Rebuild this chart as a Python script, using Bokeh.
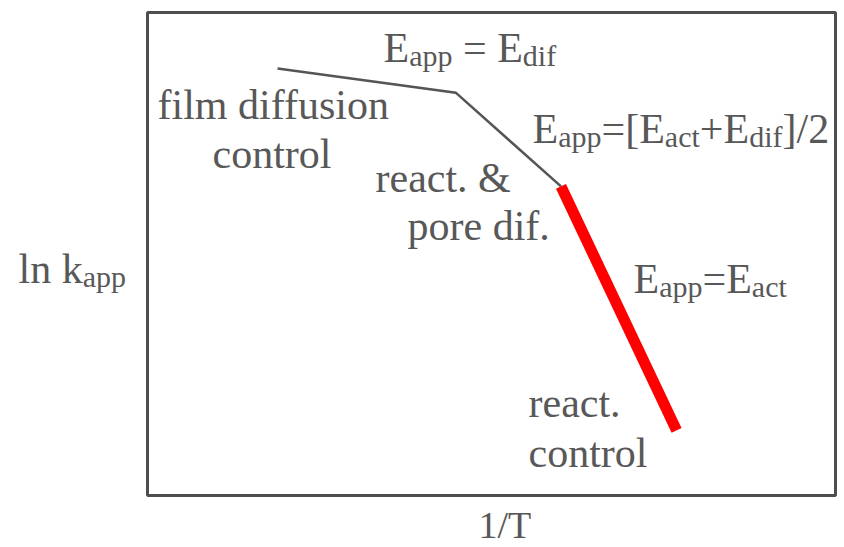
from bokeh.plotting import figure
from bokeh.models import Range1d, Label, BoxAnnotation
from bokeh.embed import file_html
from bokeh.resources import INLINE

# ---- data (arbitrary units: x = 1/T, y = ln k_app; plot box spans 0..10) ----
diff_x = [1.89, 4.48, 6.01]   # film diffusion -> pore diffusion regime
diff_y = [8.84, 8.34, 6.40]
react_x = [6.01, 7.69]        # reaction-controlled regime
react_y = [6.40, 1.35]

x_label = "1/T"
y_label = [("ln k", False), ("app", True)]

# ---- layout (page pixels) ----
W, H = 844, 547
BX0, BX1, BY0, BY1 = 147, 835, 12, 495   # plot box edges

FONT = "Liberation Serif"
TXT = "#585858"
MAIN = 42
SUB = 30
SUB_SHIFT = 8
TEXT_DY = -12   # correction for label baseline placement

WID = {' ': 250, 'E': 611, 'a': 444, 'p': 500, '=': 564, 'd': 500, 'i': 278, 'f': 333,
       '[': 333, ']': 333, 'c': 444, 't': 278, '+': 564, '/': 278, '2': 500, 'k': 500,
       'l': 278, 'n': 500, 'T': 611, '1': 500, 'r': 333, 'e': 444, 'o': 500, 'm': 778,
       's': 389, 'u': 500, '.': 250, '&': 778}


def px2x(px):
    return (px - BX0) / (BX1 - BX0) * 10


def px2y(py):
    return (BY1 - py) / (BY1 - BY0) * 10


p = figure(width=W, height=H, output_backend="svg", toolbar_location=None,
           x_range=Range1d(px2x(0), px2x(W)), y_range=Range1d(px2y(H), px2y(0)),
           x_axis_location=None, y_axis_location=None,
           min_border=0, min_border_left=0, min_border_right=0,
           min_border_top=0, min_border_bottom=0)
p.grid.visible = False
p.outline_line_color = None
p.background_fill_color = "white"
p.border_fill_color = "white"

# plot box (the 1/T – ln k frame)
p.add_layout(BoxAnnotation(left=0, right=10, bottom=0, top=10,
                           fill_alpha=0, line_color="#4e4e4e", line_alpha=1.0,
                           line_width=3))

p.line(diff_x, diff_y, line_color="#555555", line_width=2.5, line_join="miter")
p.line(react_x, react_y, line_color="#ff0000", line_width=11, line_cap="butt")


def rich(px, py, segs, size=MAIN, sub=SUB):
    pen = px
    for text, is_sub in segs:
        fs = sub if is_sub else size
        lead = len(text) - len(text.lstrip(' '))
        pen += lead * WID[' '] * fs / 1000.0
        text = text.lstrip(' ')
        yy = py + TEXT_DY + (SUB_SHIFT if is_sub else 0)
        p.add_layout(Label(x=px2x(pen), y=px2y(yy), text=text, text_font=FONT,
                           text_font_size=f"{fs}px", text_color=TXT,
                           text_align="left", text_baseline="alphabetic"))
        pen += sum(WID.get(c, 500) for c in text) * fs / 1000.0


rich(383, 59, [("E", False), ("app", True), (" = E", False), ("dif", True)])
rich(157, 116, [("film diffusion", False)])
rich(212, 165, [("control", False)])
rich(375, 189, [("react. &", False)])
rich(407, 237, [("pore dif.", False)])
rich(532, 140, [("E", False), ("app", True), ("=[E", False), ("act", True),
                ("+E", False), ("dif", True), ("]/2", False)])
rich(633, 290, [("E", False), ("app", True), ("=E", False), ("act", True)])
rich(528, 414, [("react.", False)])
rich(528, 464, [("control", False)])
rich(18, 280, y_label)
rich(478, 536, [(x_label, False)], size=38)

open("out.html", "w").write(file_html(p, INLINE))
